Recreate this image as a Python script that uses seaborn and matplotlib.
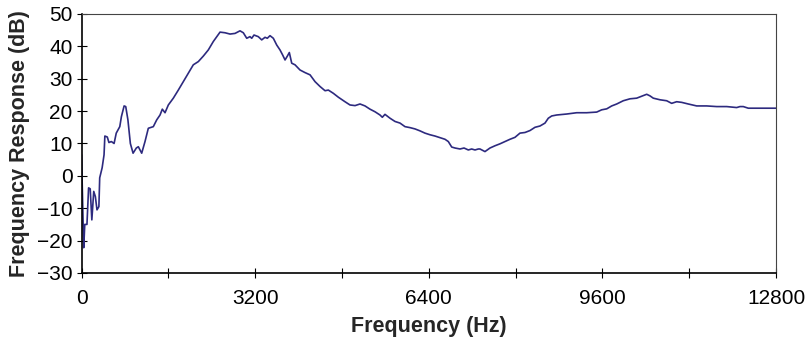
import numpy as np
import pandas as pd
import matplotlib
matplotlib.use("Agg")
import matplotlib.pyplot as plt
import seaborn as sns

freq_hz = [
    0, 40, 60, 100, 130, 160, 190, 225, 255, 285, 320, 335, 380, 415, 430,
    475, 505, 550, 600, 640, 705, 735, 785, 815, 855, 900, 950, 1010, 1047,
    1109, 1170, 1231, 1323, 1386, 1447, 1489, 1539, 1600, 1692, 1784, 1876,
    1968, 2060, 2153, 2245, 2337, 2429, 2492, 2553, 2645, 2737, 2829, 2921,
    2982, 3045, 3105, 3137, 3179, 3258, 3321, 3382, 3424, 3474, 3535, 3598,
    3658, 3708, 3751, 3794, 3830, 3874, 3935, 4027, 4119, 4212, 4304, 4396,
    4488, 4549, 4641, 4733, 4856, 4948, 5041, 5133, 5225, 5317, 5409, 5501,
    5544, 5593, 5686, 5778, 5870, 5962, 6054, 6146, 6238, 6330, 6422, 6515,
    6607, 6699, 6760, 6823, 6884, 6976, 7050, 7129, 7191, 7252, 7313, 7344,
    7436, 7528, 7621, 7713, 7805, 7897, 7989, 8081, 8174, 8266, 8358, 8450,
    8542, 8603, 8666, 8758, 8942, 9127, 9311, 9495, 9587, 9680, 9772, 9864,
    9985, 10109, 10232, 10354, 10417, 10478, 10538, 10662, 10785, 10877,
    10969, 11062, 11183, 11338, 11522, 11707, 11891, 12075, 12136, 12197,
    12289, 12800,
]
response_db = [
    6.5, -22.2, -15.0, -15.0, -3.7, -4.0, -13.6, -4.8, -6.4, -10.5, -9.5,
    -0.6, 2.5, 6.5, 12.3, 12.0, 10.3, 10.6, 10.0, 13.2, 15.2, 18.3, 21.6,
    21.4, 17.3, 10.0, 7.0, 8.6, 9.0, 7.0, 10.6, 14.7, 15.2, 17.3, 18.8, 20.6,
    19.5, 21.9, 24.0, 26.5, 29.1, 31.7, 34.3, 35.3, 37.0, 38.9, 41.5, 43.0,
    44.4, 44.2, 43.8, 44.0, 44.8, 44.2, 42.5, 43.0, 42.5, 43.5, 43.0, 42.0,
    42.8, 42.5, 43.3, 42.5, 40.4, 38.9, 37.3, 35.8, 37.0, 38.1, 34.8, 34.3,
    32.7, 31.9, 31.2, 29.1, 27.6, 26.3, 26.5, 25.5, 24.3, 22.9, 21.9, 21.7,
    22.2, 21.6, 20.6, 19.8, 18.8, 18.1, 19.0, 17.8, 16.8, 16.3, 15.2, 14.9,
    14.5, 13.9, 13.2, 12.7, 12.3, 11.8, 11.3, 10.6, 8.9, 8.6, 8.3, 8.6, 8.0,
    8.3, 8.0, 8.3, 8.3, 7.5, 8.6, 9.3, 9.9, 10.6, 11.3, 11.9, 13.2, 13.4,
    14.0, 15.0, 15.4, 16.3, 17.8, 18.5, 18.8, 19.1, 19.5, 19.5, 19.7, 20.4,
    20.7, 21.6, 22.2, 23.2, 23.8, 24.0, 24.8, 25.2, 24.7, 24.0, 23.5, 23.2,
    22.4, 22.9, 22.7, 22.2, 21.6, 21.6, 21.4, 21.4, 21.1, 21.4, 21.4, 20.9,
    20.9,
]

x_ticks = [0, 1600, 3200, 4800, 6400, 8000, 9600, 11200, 12800]
x_labels = ["0", "", "3200", "", "6400", "", "9600", "", "12800"]
y_ticks = [-30, -20, -10, 0, 10, 20, 30, 40, 50]

df = pd.DataFrame({"freq": freq_hz, "db": response_db})

sns.set_style("white")
plt.rcParams["font.family"] = ["Liberation Sans", "DejaVu Sans"]

fig = plt.figure(figsize=(8.08, 3.42), dpi=100)
ax = fig.add_axes([0.1009, 0.2018, 0.8595, 0.7573])

sns.lineplot(data=df, x="freq", y="db", ax=ax, color="#2d2a7f",
             linewidth=1.2, sort=False)

ax.set_xlim(0, 12800)
ax.set_ylim(-30, 50)
ax.set_xticks(x_ticks)
ax.set_xticklabels(x_labels)
ax.set_yticks(y_ticks)
ax.tick_params(axis="both", direction="inout", length=7, width=0.8,
               labelsize=15, colors="black", bottom=True, left=True)
ax.tick_params(axis="x", pad=8)
ax.tick_params(axis="y", pad=3)

ax.set_xlabel("Frequency (Hz)", fontsize=15.5, fontweight="bold", labelpad=6)
ax.set_ylabel("Frequency Response (dB)", fontsize=15.5, fontweight="bold",
              labelpad=5)

for side in ["left", "bottom"]:
    ax.spines[side].set_color("black")
    ax.spines[side].set_linewidth(1.2)
for side in ["top", "right"]:
    ax.spines[side].set_color("#444444")
    ax.spines[side].set_linewidth(0.8)

fig.savefig("out.png", dpi=100)
plt.close(fig)
